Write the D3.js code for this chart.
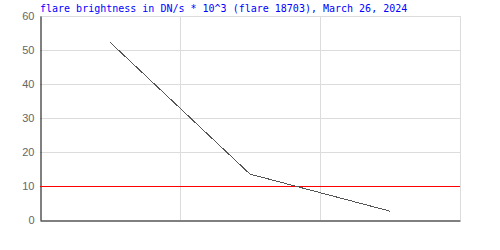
<!DOCTYPE html>
<html>
<head>
<meta charset="utf-8">
<script src="https://cdn.jsdelivr.net/npm/d3@7"></script>
<style>
  body { margin: 0; background: #fff; }
  svg { display: block; }
</style>
</head>
<body>
<div id="chart"></div>
<script>
const titleText = "flare brightness in DN/s * 10^3 (flare 18703), March 26, 2024";
// sample positions (in grid intervals) and brightness values
const samples = [0.5, 1.5, 2.5];
const brightness = [52.3, 13.5, 2.6];
const threshold = [10];
const yTicks = [0, 10, 20, 30, 40, 50, 60];
const xGrid = [1, 2, 3];

const W = 500, H = 250;
const margin = {top: 16, right: 40, bottom: 30, left: 40};

const svg = d3.select("#chart").append("svg")
  .attr("width", W)
  .attr("height", H);

const x = d3.scaleLinear().domain([0, 3]).range([margin.left, W - margin.right]);
const y = d3.scaleLinear().domain([0, 60]).range([H - margin.bottom, margin.top]);

// grid
svg.append("g")
  .selectAll("line.h")
  .data(yTicks.filter(d => d > 0))
  .enter().append("line")
  .attr("x1", x(0)).attr("x2", x(3))
  .attr("y1", d => Math.round(y(d)) + 0.5)
  .attr("y2", d => Math.round(y(d)) + 0.5)
  .attr("stroke", "#dcdcdc");

svg.append("g")
  .selectAll("line.v")
  .data(xGrid)
  .enter().append("line")
  .attr("x1", d => Math.round(x(d)) + 0.5)
  .attr("x2", d => Math.round(x(d)) + 0.5)
  .attr("y1", y(60)).attr("y2", y(0))
  .attr("stroke", "#dcdcdc");

// y labels
const yAxis = d3.axisLeft(y).tickValues(yTicks).tickSize(0).tickPadding(6);
const ya = svg.append("g")
  .attr("transform", "translate(" + (margin.left + 0.5) + ",0)")
  .call(yAxis);
ya.select(".domain").attr("stroke", "#000");
ya.selectAll("text")
  .attr("fill", "#666")
  .style("font-family", "Liberation Sans, Arial, sans-serif")
  .style("font-size", "11px");

// x axis line
const xa = svg.append("g")
  .attr("transform", "translate(0," + (y(0) + 0.5) + ")")
  .call(d3.axisBottom(x).tickValues([]).tickSize(0));
xa.select(".domain").attr("stroke", "#000");

// threshold
svg.selectAll("line.thr")
  .data(threshold)
  .enter().append("line")
  .attr("x1", x(0)).attr("x2", x(3))
  .attr("y1", d => Math.round(y(d)) + 0.5)
  .attr("y2", d => Math.round(y(d)) + 0.5)
  .attr("stroke", "#ff0000");

// data line
const line = d3.line()
  .x((d, i) => x(samples[i]))
  .y(d => y(d));

svg.append("path")
  .datum(brightness)
  .attr("d", line)
  .attr("fill", "none")
  .attr("stroke", "#555")
  .attr("stroke-width", 1)
  .attr("shape-rendering", "crispEdges");

// title
svg.append("text")
  .attr("x", margin.left)
  .attr("y", 12)
  .attr("fill", "#0000ff")
  .style("font-family", "DejaVu Sans Mono, monospace")
  .style("font-size", "10px")
  .text(titleText);
</script>
</body>
</html>
